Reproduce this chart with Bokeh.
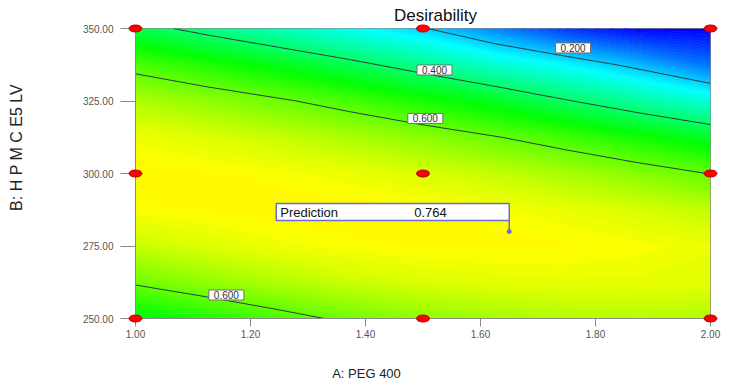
import numpy as np
from bokeh.plotting import figure
from bokeh.models import Range1d, FixedTicker, NumeralTickFormatter, Label
from bokeh.embed import file_html
from bokeh.resources import INLINE
from bokeh.core.properties import value

# ---- data ----
peg_400 = [1.0, 1.125, 1.25, 1.375, 1.5, 1.625, 1.75, 1.875, 2.0]          # factor A grid
hpmc_e5 = [250.0, 262.5, 275.0, 287.5, 300.0, 312.5, 325.0, 337.5, 350.0]  # factor B grid
# desirability estimates, one list per B value (bottom to top), across A
des_b2500 = [0.480, 0.530, 0.575, 0.615, 0.645, 0.665, 0.680, 0.685, 0.680]
des_b2625 = [0.610, 0.648, 0.680, 0.705, 0.722, 0.732, 0.737, 0.737, 0.732]
des_b2750 = [0.704, 0.726, 0.745, 0.758, 0.764, 0.766, 0.763, 0.755, 0.742]
des_b2875 = [0.756, 0.765, 0.770, 0.769, 0.764, 0.754, 0.739, 0.719, 0.695]
des_b3000 = [0.770, 0.765, 0.756, 0.741, 0.722, 0.699, 0.670, 0.636, 0.598]
des_b3125 = [0.744, 0.725, 0.702, 0.674, 0.641, 0.604, 0.562, 0.514, 0.462]
des_b3250 = [0.678, 0.646, 0.610, 0.568, 0.521, 0.470, 0.405, 0.345, 0.285]
des_b3375 = [0.574, 0.528, 0.478, 0.422, 0.362, 0.297, 0.245, 0.180, 0.110]
des_b3500 = [0.431, 0.372, 0.315, 0.260, 0.205, 0.130, 0.050, 0.000, 0.000]

contour_levels = [0.2, 0.4, 0.6]
label_text = ["0.200", "0.400", "0.600", "0.600"]
label_a = [1.761, 1.520, 1.504, 1.158]
label_b = [343.3, 335.7, 319.0, 258.1]

design_a = [1.0, 1.5, 2.0, 1.0, 1.5, 2.0, 1.0, 1.5, 2.0]
design_b = [250.0, 250.0, 250.0, 300.0, 300.0, 300.0, 350.0, 350.0, 350.0]

pred_a = 1.65
pred_b = 280.0
pred_label = "Prediction"
pred_value = "0.764"

x_ticks = [1.0, 1.2, 1.4, 1.6, 1.8, 2.0]
y_ticks = [250, 275, 300, 325, 350]

title_text = "Desirability"
x_title = "A: PEG 400"
y_title = "B: H P M C E5 LV"

# ---- styling ----
FONT = "Liberation Sans"
FW, FH = 575, 290
x_min, x_max = 1.0, 2.0
y_min, y_max = 250.0, 350.0

Z = np.array([des_b2500, des_b2625, des_b2750, des_b2875, des_b3000,
              des_b3125, des_b3250, des_b3375, des_b3500])
X, Y = np.meshgrid(np.array(peg_400), np.array(hpmc_e5))

stops = [(0.0, (0, 0, 255)), (0.25, (0, 255, 255)), (0.5, (0, 255, 0)),
         (0.76, (255, 255, 0)), (1.0, (255, 0, 0))]


def ramp(t):
    t = min(max(t, 0.0), 1.0)
    for (t0, c0), (t1, c1) in zip(stops[:-1], stops[1:]):
        if t <= t1:
            f = (t - t0) / (t1 - t0)
            r, g, b = [int(round(a + (bb - a) * f)) for a, bb in zip(c0, c1)]
            return "#%02x%02x%02x" % (r, g, b)
    return "#ff0000"


fill_levels = list(np.linspace(0.0, 1.0, 101))
fill_levels[0] = -0.01
fill_colors = [ramp((fill_levels[i] + fill_levels[i + 1]) / 2) for i in range(len(fill_levels) - 1)]
seam_colors = [ramp(l) for l in fill_levels]

p = figure(frame_width=FW, frame_height=FH,
           min_border_left=135, min_border_right=25, min_border_top=28, min_border_bottom=67,
           x_range=Range1d(x_min, x_max), y_range=Range1d(y_min, y_max),
           output_backend="svg", toolbar_location=None, background_fill_color="white")
p.xgrid.visible = False
p.ygrid.visible = False
p.outline_line_color = "#8a8a8a"
p.outline_line_width = 1

p.contour(x=X, y=Y, z=Z, levels=fill_levels, fill_color=fill_colors,
          line_color=seam_colors, line_width=1.0)
p.contour(x=X, y=Y, z=Z, levels=contour_levels, fill_color=None,
          line_color="#24403c", line_width=1.0)

p.text(x=label_a, y=label_b, text=label_text, text_align="center", text_baseline="middle",
       text_font=value(FONT), text_font_size="10px", text_color="#333333",
       background_fill_color="white", border_line_color="#707070", border_line_width=1,
       padding=(5, 1))

p.ellipse(x=design_a, y=design_b, width=13, height=7, width_units="screen",
          height_units="screen", fill_color="#ff0000", line_color="#b00000", line_width=1,
          level="overlay")

# prediction flag (pixel offsets converted through the axis scale)
ppx = FW / (x_max - x_min)
ppy = FH / (y_max - y_min)
box_left = pred_a - 233 / ppx
box_bottom = pred_b + 11 / ppy
box_top = pred_b + 28 / ppy
flag_col = "#6b6bd6"
p.segment(x0=[pred_a], y0=[pred_b], x1=[pred_a], y1=[box_bottom], line_color=flag_col, line_width=1.5)
p.scatter(x=[pred_a], y=[pred_b], size=4, fill_color=flag_col, line_color=flag_col)
p.quad(left=[box_left], right=[pred_a], bottom=[box_bottom], top=[box_top],
       fill_color="white", line_color=flag_col, line_width=1.5)
p.text(x=[box_left + 4 / ppx], y=[(box_bottom + box_top) / 2], text=[pred_label],
       text_align="left", text_baseline="middle", text_font=value(FONT),
       text_font_size="13px", text_color="#111111")
p.text(x=[box_left + 138 / ppx], y=[(box_bottom + box_top) / 2], text=[pred_value],
       text_align="left", text_baseline="middle", text_font=value(FONT),
       text_font_size="13px", text_color="#111111")

# axes
for ax, ticks, tout, stand in ((p.xaxis[0], x_ticks, 8, 3), (p.yaxis[0], y_ticks, 15, 7)):
    ax.ticker = FixedTicker(ticks=ticks)
    ax.formatter = NumeralTickFormatter(format="0.00")
    ax.axis_line_color = "#8a8a8a"
    ax.major_tick_line_color = "#8a8a8a"
    ax.major_tick_out = tout
    ax.major_tick_in = 0
    ax.minor_tick_line_color = None
    ax.major_label_text_font = FONT
    ax.major_label_text_font_size = "10px"
    ax.major_label_text_color = "#555555"
    ax.major_label_standoff = stand

# titles as labels living in the side panels (screen offsets relative to each panel)
p.add_layout(Label(x=300, y=13, x_units="screen", y_units="screen", text=title_text,
                   text_align="center", text_baseline="middle", text_font=FONT,
                   text_font_size="17px", text_color="#111111"), "above")
p.add_layout(Label(x=231, y=-18, x_units="screen", y_units="screen", text=x_title,
                   text_align="center", text_baseline="middle", text_font=FONT,
                   text_font_size="13px", text_color="#222222"), "below")
p.add_layout(Label(x=-46, y=171, x_units="screen", y_units="screen", text=y_title,
                   angle=np.pi / 2, text_align="center", text_baseline="middle", text_font=FONT,
                   text_font_size="16px", text_color="#222222"), "left")

open("out.html", "w").write(file_html(p, INLINE))
